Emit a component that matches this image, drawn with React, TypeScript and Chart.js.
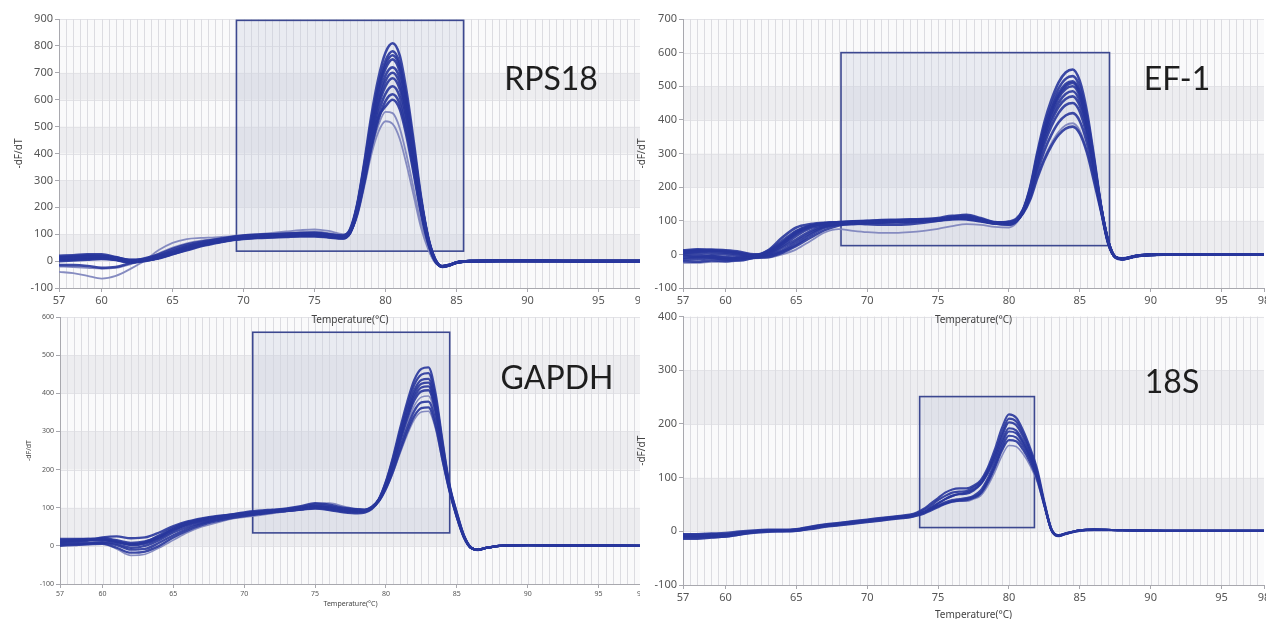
import { useEffect, useRef } from "react";
import { Chart, registerables } from "chart.js";
Chart.register(...registerables);

const X_TICKS = [57, 60, 65, 70, 75, 80, 85, 90, 95, 98];

// ---------- RPS18 ----------
const rpsX = [57,58,59,60,61,62,63,64,65,66,67,68,69,70,71,72,73,74,75,76,77,77.5,78,78.5,79,79.5,80,80.5,81,81.5,82,82.5,83,83.5,84,84.5,85,86,88,91,94,98];
const rpsA = [10,12,15,18,12,2,8,20,38,55,68,78,88,95,98,100,102,104,105,100,95,118,210,365,540,680,775,810,765,625,440,240,90,8,-20,-16,-6,0,1,1,0,0];
const rpsB = [20,22,25,25,15,5,5,15,30,48,62,75,85,92,96,98,100,102,100,96,92,112,205,355,520,655,745,780,735,600,420,230,88,6,-18,-14,-5,-1,1,1,0,0];
const rpsK = [14,16,18,20,14,4,6,16,32,50,64,76,86,93,97,99,101,103,104,99,94,115,202,348,510,640,730,765,722,590,412,228,86,6,-20,-15,-5,0,1,1,0,0];
const rpsC = [0,2,5,8,4,-5,0,12,28,45,60,72,82,88,92,94,96,98,98,94,88,108,200,340,500,630,715,750,705,580,405,225,85,5,-22,-16,-6,0,2,1,0,0];
const rpsD = [-15,-15,-18,-25,-22,-8,5,18,35,52,65,74,84,90,95,97,99,101,102,98,92,112,195,330,485,605,690,720,680,555,390,215,82,4,-20,-15,-5,0,1,1,0,0];
const rpsE = [8,10,12,12,8,0,2,10,25,42,58,70,80,86,90,92,95,97,98,94,90,110,190,320,470,590,670,700,660,540,380,210,80,5,-20,-15,-6,-1,1,0,0,0];
const rpsF = [15,18,22,20,10,0,10,25,45,62,72,80,88,92,95,96,97,98,96,90,85,105,185,310,455,575,650,680,640,525,370,205,78,3,-21,-16,-6,0,1,1,0,0];
const rpsG = [5,5,8,10,5,-3,3,12,26,40,55,66,76,82,86,88,90,92,92,88,84,104,180,300,440,550,622,650,612,500,352,195,75,2,-20,-15,-5,0,1,1,0,0];
const rpsH = [12,14,16,14,6,-2,4,14,30,46,60,70,78,84,88,90,92,94,94,90,86,105,175,290,420,525,595,620,585,478,335,185,70,0,-19,-14,-5,0,1,1,0,0];
const rpsL = [4,6,10,12,6,-4,2,12,28,44,58,68,78,84,88,90,93,96,97,92,86,104,178,295,430,535,575,600,565,460,322,178,68,1,-19,-14,-5,0,1,1,0,0];
const rpsI = [-40,-45,-55,-65,-55,-30,0,40,68,82,86,88,92,96,100,105,110,115,118,112,100,112,170,285,410,505,555,550,495,390,265,140,50,-5,-18,-13,-5,0,1,1,0,0];
const rpsJ = [-20,-22,-25,-28,-25,-12,5,28,50,66,76,82,88,92,96,100,104,108,110,104,96,108,165,275,395,480,520,510,455,355,240,125,45,-6,-18,-14,-5,0,1,1,0,0];
const rpsRect = [69.5, 85.5, 37, 895];

// ---------- EF-1 ----------
const efX = [57,58,59,60,61,62,63,64,65,66,67,68,69,70,71,72,73,74,75,76,77,78,79,80,80.5,81,81.5,82,82.5,83,83.5,84,84.5,85,85.5,86,86.5,87,87.5,88,89,91,94,98];
const efA = [5,8,10,8,2,-5,10,40,70,85,90,92,95,96,97,98,100,102,105,110,108,100,95,98,105,134,201,303,393,460,511,541,550,516,426,291,145,40,-8,-14,-5,0,0,0];
const efB = [-10,-8,-5,-8,-10,-8,0,20,45,70,85,92,96,98,100,101,102,104,108,115,115,105,96,95,102,132,197,294,380,444,493,522,530,498,412,283,143,40,-8,-14,-5,0,0,0];
const efC = [-20,-22,-18,-20,-15,-10,-8,5,25,50,72,86,92,95,96,97,98,100,104,112,118,108,95,90,98,131,193,287,370,432,479,507,515,484,400,276,141,38,-9,-15,-6,-1,0,0];
const efK = [8,10,8,5,0,-4,6,32,64,84,92,94,96,97,98,99,100,101,103,107,106,100,94,96,101,131,191,283,365,426,472,500,510,478,396,274,141,40,-8,-14,-5,0,0,0];
const efD = [10,12,12,10,5,-2,12,50,80,90,94,95,96,98,99,100,101,102,104,106,104,98,92,95,100,130,190,280,360,420,465,492,500,470,390,270,140,40,-8,-14,-5,0,0,0];
const efE = [0,-2,-5,-10,-12,-6,2,25,55,78,88,92,94,95,96,97,98,100,102,108,110,102,94,92,100,129,187,273,350,408,451,477,485,456,380,264,139,38,-8,-13,-4,0,0,0];
const efF = [-5,-8,-10,-15,-18,-10,-5,8,30,58,80,90,92,90,88,88,90,94,100,108,112,104,92,88,97,128,183,266,340,396,438,462,470,442,368,258,137,38,-7,-13,-4,0,0,0];
const efG = [12,15,14,12,8,0,5,30,62,82,92,96,98,100,102,103,104,105,106,108,106,100,94,94,100,126,179,258,328,381,420,444,450,424,353,250,135,36,-8,-14,-5,0,0,0];
const efH = [-15,-14,-12,-14,-10,-6,-2,12,38,64,82,88,90,92,94,95,96,98,100,104,106,100,92,90,98,124,172,244,308,356,392,413,420,396,332,236,132,35,-8,-13,-5,0,0,0];
const efJ = [3,5,2,0,-5,-6,8,35,68,86,93,95,97,99,100,100,101,102,103,106,106,100,93,94,100,122,163,226,281,323,355,374,380,359,303,218,128,33,-7,-12,-4,0,0,0];
const efI = [-25,-25,-22,-22,-18,-12,-10,0,15,40,65,75,70,66,64,64,66,70,76,84,90,88,82,80,92,122,165,230,288,331,364,384,390,368,310,222,129,34,-7,-12,-4,0,0,0];
const efRect = [68.15, 87.1, 26, 600];

// ---------- GAPDH ----------
const gapX = [57,58,59,60,61,62,63,64,65,66,67,68,69,70,71,72,73,74,75,76,77,78,78.5,79,79.5,80,80.5,81,81.5,82,82.5,83,83.5,84,84.5,85,85.5,86,86.5,87,88,90,93,98];
const gapA = [15,16,18,20,15,8,12,25,42,55,64,72,78,84,88,92,96,102,108,104,98,95,94,102,123,169,233,308,377,435,464,468,400,273,158,88,28,-4,-10,-6,0,2,1,0];
const gapB = [5,6,8,10,5,-5,0,15,35,50,60,68,75,80,84,88,92,96,100,98,94,92,92,100,122,167,228,300,366,422,449,453,388,266,155,86,27,-5,-10,-6,0,2,1,0];
const gapC = [10,12,15,18,12,2,6,20,40,56,66,74,80,86,90,93,96,100,104,100,95,92,92,101,121,164,222,291,355,408,435,438,376,259,153,84,26,-5,-11,-6,0,2,1,0];
const gapD = [0,2,4,5,-5,-18,-15,0,22,40,54,64,72,78,83,88,92,96,100,96,90,88,90,98,121,162,219,286,347,399,425,428,368,255,152,82,25,-5,-10,-6,0,2,1,0];
const gapE = [12,14,16,15,10,3,8,22,45,60,70,76,82,88,92,95,98,104,112,108,100,96,95,102,120,160,215,280,340,390,415,418,360,250,150,80,25,-5,-10,-6,0,2,1,0];
const gapF = [8,10,14,22,25,20,22,35,52,64,72,78,82,86,88,90,94,98,102,98,93,90,90,99,119,158,211,274,333,381,405,408,352,245,148,79,24,-5,-10,-6,0,2,1,0];
const gapH = [18,18,18,16,10,4,10,28,48,62,70,76,80,84,87,90,92,95,98,94,88,85,87,96,118,153,201,258,310,354,376,378,328,231,144,76,23,-5,-10,-6,0,2,1,0];
const gapI = [2,4,6,8,2,-10,-8,8,28,45,58,68,76,82,86,90,94,98,104,102,96,92,92,100,117,150,195,249,299,340,361,363,315,224,141,75,22,-6,-10,-6,0,2,1,0];
const gapG = [5,5,6,5,-8,-25,-22,-5,15,35,50,60,70,75,80,85,90,96,110,112,104,96,94,100,118,155,206,266,321,367,390,393,340,238,146,78,24,-6,-11,-6,0,2,1,0];
const gapJ = [14,15,17,18,14,6,10,24,44,58,66,72,76,80,82,86,90,94,98,95,90,88,89,98,116,148,192,243,291,331,351,353,307,220,140,74,22,-5,-10,-6,0,2,1,0];
const gapRect = [70.6, 84.5, 34, 560];

// ---------- 18S ----------
const s18X = [57,58,59,60,61,62,63,64,65,66,67,68,69,70,71,72,73,73.5,74,74.5,75,75.5,76,76.5,77,77.5,78,78.5,79,79.5,80,80.5,81,81.5,82,82.5,83,83.5,84,85,86,88,91,95,98];
const s18A = [-5,-5,-4,-3,0,2,3,3,4,9,13,16,19,22,25,28,31,35,42,52,62,72,78,80,80,85,95,118,152,192,218,212,188,155,115,55,4,-8,-4,2,3,2,1,1,1];
const s18B = [-8,-8,-7,-6,-2,0,2,2,3,8,12,15,18,21,24,27,30,33,40,48,58,66,72,74,75,82,92,114,145,182,210,205,182,150,110,52,3,-8,-5,2,3,2,1,1,1];
const s18C = [-12,-12,-11,-10,-6,-2,0,0,1,5,9,12,15,18,21,24,27,30,35,43,52,60,66,69,70,76,88,110,140,176,203,198,176,146,108,50,2,-9,-5,1,3,2,1,1,1];
const s18D = [-10,-10,-9,-8,-4,-1,1,1,2,6,10,13,16,19,22,25,28,31,36,44,52,60,66,70,72,78,88,108,135,168,192,188,168,140,105,50,3,-8,-4,2,3,2,1,1,1];
const s18E = [-6,-6,-5,-5,-2,0,1,2,3,7,11,14,17,20,23,26,29,32,36,42,48,54,58,60,62,66,76,98,128,162,186,183,164,138,104,52,4,-7,-4,2,3,2,1,1,1];
const s18F = [-14,-14,-12,-10,-6,-3,-1,0,1,4,8,11,14,17,20,23,26,29,33,39,45,51,55,58,60,64,72,94,122,155,178,175,158,134,100,50,3,-8,-4,1,2,2,1,1,1];
const s18G = [-9,-9,-8,-7,-3,0,2,2,3,7,11,14,17,20,23,26,29,32,35,41,47,52,56,57,58,62,70,90,118,150,170,168,152,128,96,48,2,-8,-5,2,3,2,1,1,1];
const s18H = [-11,-11,-10,-9,-5,-2,0,1,2,6,10,13,16,19,22,25,28,31,34,40,46,52,55,56,56,60,66,84,110,140,160,158,144,122,92,46,2,-7,-4,2,3,2,1,1,1];
const s18Rect = [73.7, 81.8, 7, 251];

const DARK = "rgba(40,54,156,0.9)";
const LIGHT = "rgba(128,134,190,0.95)";

type Series = { values: number[]; light: boolean };
type Panel = {
  name: string;
  left: number; top: number; width: number; height: number; clip: number;
  yMin: number; yMax: number; yAxisWidth: number; xAxisHeight: number;
  padTop: number; padRight: number; tickSize: number; titleSize: number; yTitlePad: number;
  xs: number[]; series: Series[]; rect: number[]; bands: number[]; lw: number;
};

const panels: Panel[] = [
  {
    name: "GAPDH", left: 0, top: 305, width: 651, height: 307, clip: 640,
    yMin: -100, yMax: 600, yAxisWidth: 60, xAxisHeight: 28, padTop: 12, padRight: 10,
    tickSize: 7, titleSize: 7, yTitlePad: 25, xs: gapX, rect: gapRect, bands: [0, 200, 400], lw: 2.3,
    series: [gapA, gapB, gapC, gapD, gapE, gapF, gapH, gapI].map(v => ({ values: v, light: false }))
      .concat([gapG, gapJ].map(v => ({ values: v, light: true }))),
  },
  {
    name: "18S", left: 636, top: 308, width: 638, height: 317, clip: 630,
    yMin: -100, yMax: 400, yAxisWidth: 47, xAxisHeight: 40, padTop: 8, padRight: 10,
    tickSize: 11, titleSize: 10, yTitlePad: 0, xs: s18X, rect: s18Rect, bands: [0, 200], lw: 2.2,
    series: [s18A, s18B, s18C, s18D, s18E, s18F, s18G].map(v => ({ values: v, light: false }))
      .concat([s18H].map(v => ({ values: v, light: true }))),
  },
  {
    name: "RPS18", left: 0, top: 0, width: 651, height: 330, clip: 640,
    yMin: -100, yMax: 900, yAxisWidth: 59, xAxisHeight: 42, padTop: 19, padRight: 10,
    tickSize: 11, titleSize: 10, yTitlePad: 13, xs: rpsX, rect: rpsRect, bands: [0, 200, 400, 600], lw: 2.6,
    series: [rpsA, rpsB, rpsK, rpsC, rpsD, rpsE, rpsF, rpsG, rpsH, rpsL].map(v => ({ values: v, light: false }))
      .concat([rpsI, rpsJ].map(v => ({ values: v, light: true }))),
  },
  {
    name: "EF-1", left: 636, top: 0, width: 638, height: 330, clip: 630,
    yMin: -100, yMax: 700, yAxisWidth: 47, xAxisHeight: 42, padTop: 19, padRight: 10,
    tickSize: 11, titleSize: 10, yTitlePad: 0, xs: efX, rect: efRect, bands: [0, 200, 400], lw: 2.6,
    series: [efA, efB, efC, efK, efD, efE, efF, efG, efH, efJ].map(v => ({ values: v, light: false }))
      .concat([efI].map(v => ({ values: v, light: true }))),
  },
];

const labels = [
  { text: "RPS18", x: 551, y: 78 },
  { text: "EF-1", x: 1177, y: 78 },
  { text: "GAPDH", x: 557, y: 377 },
  { text: "18S", x: 1172, y: 381 },
];

const backdrop = {
  id: "backdrop",
  beforeDraw(chart: any, _a: any, opts: any) {
    const { ctx, chartArea: a, scales } = chart;
    const x = scales.x, y = scales.y;
    ctx.save();
    ctx.fillStyle = "#fafafb";
    ctx.fillRect(a.left, a.top, a.right - a.left, a.bottom - a.top);
    ctx.fillStyle = "#ededf0";
    for (const b of opts.bands as number[]) {
      const yt = y.getPixelForValue(b + 100), yb = y.getPixelForValue(b);
      ctx.fillRect(a.left, yt, a.right - a.left, yb - yt);
    }
    ctx.strokeStyle = "#e3e3e7";
    ctx.lineWidth = 1;
    for (let v = opts.yMin; v <= opts.yMax; v += 100) {
      const py = Math.round(y.getPixelForValue(v)) + 0.5;
      ctx.beginPath(); ctx.moveTo(a.left, py); ctx.lineTo(a.right, py); ctx.stroke();
    }
    ctx.strokeStyle = "#dcdce1";
    for (let t = 57.5; t < 98; t += 0.5) {
      const px = Math.round(x.getPixelForValue(t)) + 0.5;
      ctx.beginPath(); ctx.moveTo(px, a.top); ctx.lineTo(px, a.bottom); ctx.stroke();
    }
    ctx.restore();
  },
  beforeDatasetsDraw(chart: any, _a: any, opts: any) {
    const { ctx, scales } = chart;
    const x = scales.x, y = scales.y;
    const [x0, x1, y0, y1] = opts.rect as number[];
    const l = x.getPixelForValue(x0), r = x.getPixelForValue(x1);
    const t = y.getPixelForValue(y1), b = y.getPixelForValue(y0);
    ctx.save();
    ctx.fillStyle = "rgba(200,206,224,0.35)";
    ctx.fillRect(l, t, r - l, b - t);
    ctx.strokeStyle = "#3c4890";
    ctx.lineWidth = 1.6;
    ctx.strokeRect(l, t, r - l, b - t);
    ctx.restore();
  },
};

function PanelChart({ p }: { p: Panel }) {
  const ref = useRef<HTMLCanvasElement>(null);
  useEffect(() => {
    const tickFont = { family: "'Noto Sans', 'DejaVu Sans', sans-serif", size: p.tickSize };
    const titleFont = { family: "'Noto Sans', 'DejaVu Sans', sans-serif", size: p.titleSize };
    const datasets = p.series.map((s) => ({
      data: p.xs.map((xv, i) => ({ x: xv, y: s.values[i] })),
      borderColor: s.light ? LIGHT : DARK,
      borderWidth: s.light ? p.lw * 0.7 : p.lw,
      pointRadius: 0,
      fill: false,
      cubicInterpolationMode: "monotone" as const,
    }));
    const chart = new Chart(ref.current!, {
      type: "line",
      data: { datasets },
      plugins: [backdrop],
      options: {
        animation: false,
        responsive: false,
        maintainAspectRatio: false,
        layout: { padding: { top: p.padTop, right: p.padRight, left: 0, bottom: 0 } },
        plugins: {
          legend: { display: false },
          tooltip: { enabled: false },
          backdrop: { rect: p.rect, bands: p.bands, yMin: p.yMin, yMax: p.yMax },
        } as any,
        scales: {
          x: {
            type: "linear", min: 57, max: 98,
            afterBuildTicks: (s: any) => { s.ticks = X_TICKS.map((v) => ({ value: v })); },
            afterFit: (s: any) => { s.height = p.xAxisHeight; },
            grid: { display: true, drawOnChartArea: false, tickLength: 4, color: "#a8a8ae" },
            border: { color: "#a8a8ae" },
            ticks: { font: tickFont, color: "#555", maxRotation: 0, autoSkip: false, padding: 2 },
            title: { display: true, text: "Temperature(°C)", font: titleFont, color: "#444", padding: { top: 0, bottom: 4 } },
          },
          y: {
            min: p.yMin, max: p.yMax,
            afterFit: (s: any) => { s.width = p.yAxisWidth; },
            grid: { display: true, drawOnChartArea: false, tickLength: 4, color: "#a8a8ae" },
            border: { color: "#a8a8ae" },
            ticks: { stepSize: 100, font: tickFont, color: "#555", padding: 2 },
            title: { display: true, text: "-dF/dT", font: titleFont, color: "#444", padding: { top: p.yTitlePad, bottom: 0 } },
          },
        },
      },
    } as any);
    return () => chart.destroy();
  }, []);
  return (
    <div style={{ position: "absolute", left: p.left, top: p.top, width: p.clip, height: p.height, overflow: "hidden" }}>
      <canvas ref={ref} width={p.width} height={p.height} style={{ width: p.width, height: p.height, display: "block" }} />
    </div>
  );
}

export default function App() {
  return (
    <div style={{ position: "fixed", left: 0, top: 0, width: 1266, height: 619, background: "#ffffff", overflow: "hidden" }}>
      {panels.map((p) => <PanelChart key={p.name} p={p} />)}
      {labels.map((l) => (
        <div key={l.text} style={{
          position: "absolute", left: l.x, top: l.y, transform: "translate(-50%, -50%)",
          fontFamily: "Lato, 'Open Sans', sans-serif", fontSize: 32, color: "#1e1e1e", whiteSpace: "nowrap", lineHeight: 1,
        }}>{l.text}</div>
      ))}
    </div>
  );
}
